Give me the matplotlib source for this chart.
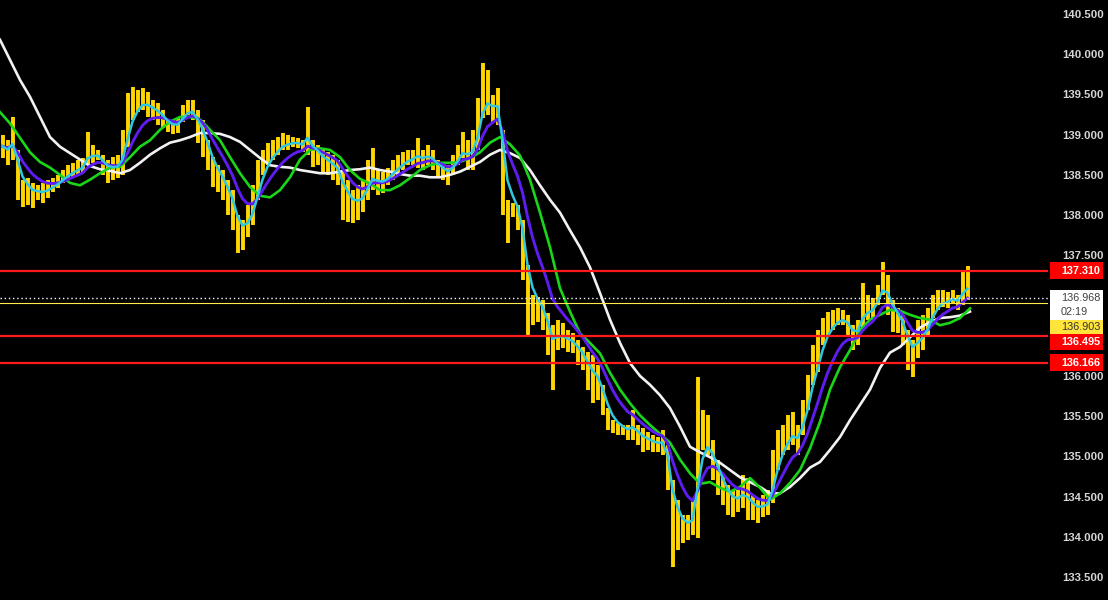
import numpy as np
import pandas as pd
import matplotlib
matplotlib.use("Agg")
import matplotlib.pyplot as plt
from matplotlib.patches import Rectangle
from matplotlib.transforms import IdentityTransform

# ---------------- data ----------------
bar_high = [139.00, 138.93, 139.22, 138.81, 138.44, 138.46, 138.40, 138.37, 138.40, 138.44,
            138.46, 138.50, 138.56, 138.62, 138.65, 138.69, 138.71, 139.03, 138.87, 138.81,
            138.75, 138.69, 138.72, 138.75, 139.06, 139.52, 139.59, 139.56, 139.58, 139.53,
            139.43, 139.39, 139.31, 139.18, 139.16, 139.21, 139.37, 139.43, 139.43, 139.31,
            139.18, 138.93, 138.72, 138.62, 138.56, 138.44, 138.31, 138.00, 137.94, 138.12,
            138.37, 138.69, 138.81, 138.90, 138.93, 138.97, 139.02, 139.00, 138.97, 138.96,
            138.93, 139.34, 138.93, 138.87, 138.81, 138.78, 138.75, 138.69, 138.56, 138.44,
            138.31, 138.37, 138.44, 138.69, 138.84, 138.56, 138.54, 138.59, 138.69, 138.75,
            138.78, 138.81, 138.81, 138.96, 138.81, 138.87, 138.81, 138.69, 138.66, 138.62,
            138.75, 138.87, 139.03, 138.93, 139.06, 139.46, 139.89, 139.80, 139.49, 139.58,
            139.06, 138.19, 138.15, 138.12, 137.94, 137.38, 137.01, 136.98, 136.94, 136.78,
            136.63, 136.70, 136.66, 136.57, 136.53, 136.45, 136.36, 136.30, 136.26, 136.14,
            135.89, 135.60, 135.45, 135.41, 135.39, 135.39, 135.58, 135.39, 135.35, 135.30,
            135.27, 135.24, 135.33, 135.14, 134.71, 134.46, 134.27, 134.27, 134.46, 135.99,
            135.58, 135.51, 135.20, 134.96, 134.77, 134.64, 134.58, 134.58, 134.77, 134.73,
            134.52, 134.46, 134.52, 134.58, 135.08, 135.33, 135.39, 135.51, 135.55, 135.39,
            135.70, 136.01, 136.38, 136.57, 136.72, 136.80, 136.82, 136.84, 136.82, 136.76,
            136.63, 136.70, 137.16, 137.01, 136.97, 137.13, 137.42, 137.26, 136.94, 136.84,
            136.76, 136.57, 136.45, 136.70, 136.76, 136.84, 137.01, 137.07, 137.07, 137.04,
            137.07, 137.01, 137.32, 137.37]
bar_low = [138.71, 138.62, 138.68, 138.19, 138.10, 138.12, 138.09, 138.19, 138.15, 138.21,
           138.29, 138.34, 138.40, 138.44, 138.47, 138.50, 138.52, 138.62, 138.65, 138.69,
           138.50, 138.40, 138.44, 138.46, 138.50, 138.85, 139.18, 139.28, 139.31, 139.22,
           139.18, 139.12, 139.08, 139.03, 139.01, 139.02, 139.16, 139.24, 139.18, 138.90,
           138.72, 138.56, 138.35, 138.29, 138.19, 138.00, 137.81, 137.53, 137.57, 137.73,
           137.88, 138.19, 138.50, 138.62, 138.69, 138.75, 138.81, 138.81, 138.85, 138.84,
           138.78, 138.75, 138.60, 138.62, 138.52, 138.50, 138.44, 138.37, 137.94, 137.91,
           137.90, 137.94, 138.04, 138.19, 138.31, 138.25, 138.27, 138.37, 138.44, 138.50,
           138.56, 138.62, 138.62, 138.59, 138.56, 138.62, 138.56, 138.46, 138.44, 138.37,
           138.50, 138.62, 138.71, 138.56, 138.56, 138.81, 139.21, 139.24, 139.16, 139.12,
           138.00, 137.65, 137.98, 137.81, 137.19, 136.48, 136.63, 136.67, 136.57, 136.26,
           135.83, 136.32, 136.35, 136.30, 136.28, 136.14, 136.07, 135.83, 135.66, 135.70,
           135.51, 135.33, 135.29, 135.27, 135.27, 135.20, 135.20, 135.14, 135.05, 135.08,
           135.05, 135.05, 135.02, 134.58, 133.62, 133.84, 133.92, 133.96, 134.02, 133.99,
           135.08, 135.02, 134.71, 134.52, 134.40, 134.27, 134.25, 134.31, 134.36, 134.21,
           134.21, 134.17, 134.25, 134.27, 134.42, 134.83, 135.02, 135.08, 135.14, 135.02,
           135.27, 135.58, 135.89, 136.05, 136.38, 136.51, 136.57, 136.63, 136.63, 136.51,
           136.32, 136.38, 136.57, 136.70, 136.72, 136.88, 137.01, 136.76, 136.55, 136.53,
           136.38, 136.07, 135.99, 136.22, 136.32, 136.51, 136.72, 136.82, 136.86, 136.84,
           136.91, 136.82, 136.88, 136.94]

# slow moving averages, sampled every second bar
ma_green = [139.28, 139.14, 138.96, 138.78, 138.66, 138.59, 138.50, 138.40, 138.37, 138.44,
            138.52, 138.59, 138.60, 138.72, 138.85, 138.93, 139.06, 139.16, 139.22, 139.22,
            139.19, 139.06, 138.93, 138.72, 138.52, 138.35, 138.24, 138.22, 138.31, 138.47,
            138.69, 138.81, 138.83, 138.81, 138.72, 138.56, 138.45, 138.39, 138.31, 138.31,
            138.37, 138.46, 138.56, 138.62, 138.65, 138.65, 138.66, 138.71, 138.78, 138.90,
            138.97, 138.88, 138.74, 138.44, 138.03, 137.60, 137.09, 136.80, 136.53, 136.41,
            136.28, 136.04, 135.83, 135.66, 135.51, 135.39, 135.28, 135.17, 134.96, 134.79,
            134.66, 134.68, 134.61, 134.56, 134.62, 134.73, 134.61, 134.46, 134.54, 134.67,
            134.83, 135.10, 135.43, 135.83, 136.11, 136.32, 136.57, 136.70, 136.76, 136.82,
            136.81, 136.76, 136.72, 136.70, 136.63, 136.66, 136.72, 136.84]
ma_white = [140.18, 139.93, 139.68, 139.47, 139.22, 138.97, 138.85, 138.77, 138.69, 138.61,
            138.57, 138.55, 138.52, 138.56, 138.65, 138.75, 138.83, 138.90, 138.93, 138.97,
            139.02, 139.02, 139.01, 138.97, 138.91, 138.81, 138.71, 138.62, 138.60, 138.59,
            138.56, 138.54, 138.52, 138.52, 138.54, 138.56, 138.57, 138.59, 138.56, 138.54,
            138.51, 138.49, 138.49, 138.47, 138.47, 138.50, 138.54, 138.60, 138.66, 138.75,
            138.81, 138.77, 138.71, 138.56, 138.37, 138.19, 138.03, 137.81, 137.60, 137.35,
            137.03, 136.70, 136.41, 136.16, 136.00, 135.89, 135.76, 135.60, 135.37, 135.12,
            135.05, 134.99, 134.92, 134.83, 134.74, 134.68, 134.62, 134.54, 134.54, 134.62,
            134.73, 134.86, 134.93, 135.08, 135.24, 135.45, 135.64, 135.83, 136.10, 136.29,
            136.36, 136.48, 136.60, 136.67, 136.72, 136.73, 136.75, 136.80]

level_lines = [137.310, 136.495, 136.166]
last_price = 136.968
other_price = 136.903
countdown = "02:19"
# 136.500 and 137.000 are hidden behind the price boxes in the reference
y_ticks = [133.5, 134.0, 134.5, 135.0, 135.5, 136.0, 137.5, 138.0, 138.5,
           139.0, 139.5, 140.0, 140.5]

FONT = ["Liberation Sans", "DejaVu Sans"]

# ---------------- figure ----------------
W, H, DPI = 1108, 600, 100
fig = plt.figure(figsize=(W / DPI, H / DPI), dpi=DPI, facecolor="black")
ax = fig.add_axes([0, 0, 1048 / W, 1], facecolor="black")

n = len(bar_high)
idx = np.arange(n)
hi = np.array(bar_high)
lo = np.array(bar_low)
mid = pd.Series((hi + lo) / 2)

ma_cyan = mid.ewm(span=3, adjust=False).mean()
ma_purple = mid.ewm(span=8, adjust=False).mean()
ma_idx = np.arange(len(ma_green)) * 2 - 0.5

ax.vlines(idx, lo, hi, color="#ffd600", linewidth=2.8, zorder=2)

ax.plot(ma_idx, ma_white, color="#f2f2f2", lw=1.9, zorder=3)
ax.plot(ma_idx, ma_green, color="#19d619", lw=1.9, zorder=4)
ax.plot(idx, ma_purple, color="#5e1cf0", lw=2.1, zorder=5)
ax.plot(idx, ma_cyan, color="#2ec8e0", lw=1.8, zorder=6)

for lv in level_lines:
    ax.axhline(lv, color="#ff1a1a", lw=1.6, zorder=7)
ax.axhline(last_price, color="white", lw=1.0, ls=(0, (1, 2)), zorder=7)
ax.axhline(other_price, color="#ffe94d", lw=0.8, zorder=7)

ax.set_xlim(-0.5, 1048 / 5 - 0.5)
ax.set_ylim(133.214, 140.674)
ax.set_xticks([])
ax.yaxis.tick_right()
ax.set_yticks(y_ticks)
ax.set_yticklabels([f"{v:.3f}" for v in y_ticks])
ax.tick_params(axis="y", length=0, pad=10, labelsize=8.2, labelcolor="#d6d6d6")
for lab in ax.get_yticklabels():
    lab.set_fontweight("bold")
    lab.set_family(FONT)
for s in ax.spines.values():
    s.set_visible(False)

# ---------------- price labels on the scale ----------------
fig.canvas.draw()
ident = IdentityTransform()


def ypix(price):
    return ax.transData.transform((0, price))[1]


box_x0, box_w = 1050, 53
TX = 1061
FS = 7.8


def label(price, text, face, tcolor, weight, dy=0, h=17):
    yc = ypix(price) + dy
    fig.patches.append(Rectangle((box_x0, yc - h / 2), box_w, h, transform=ident,
                                 facecolor=face, edgecolor="none", zorder=10,
                                 figure=fig))
    fig.text(TX, yc, text, transform=ident, ha="left", va="center",
             color=tcolor, fontsize=FS, fontweight=weight, family=FONT, zorder=11)


label(level_lines[0], f"{level_lines[0]:.3f}", "#ff0000", "white", "bold")
# last price box (two lines)
yl = ypix(last_price)
fig.patches.append(Rectangle((box_x0, yl - 22), box_w, 30, transform=ident,
                             facecolor="white", edgecolor="none", zorder=10, figure=fig))
fig.text(TX, yl, f"{last_price:.3f}", transform=ident, ha="left", va="center",
         color="#404040", fontsize=FS, family=FONT, zorder=11)
fig.text(TX, yl - 14, countdown, transform=ident, ha="left", va="center",
         color="#404040", fontsize=FS, family=FONT, zorder=11)
label(other_price, f"{other_price:.3f}", "#ffe53b", "#333333", "normal", dy=-24, h=14)
label(level_lines[1], f"{level_lines[1]:.3f}", "#ff0000", "white", "bold", dy=-6, h=16)
label(level_lines[2], f"{level_lines[2]:.3f}", "#ff0000", "white", "bold")

fig.savefig("out.png", dpi=DPI, facecolor="black")
